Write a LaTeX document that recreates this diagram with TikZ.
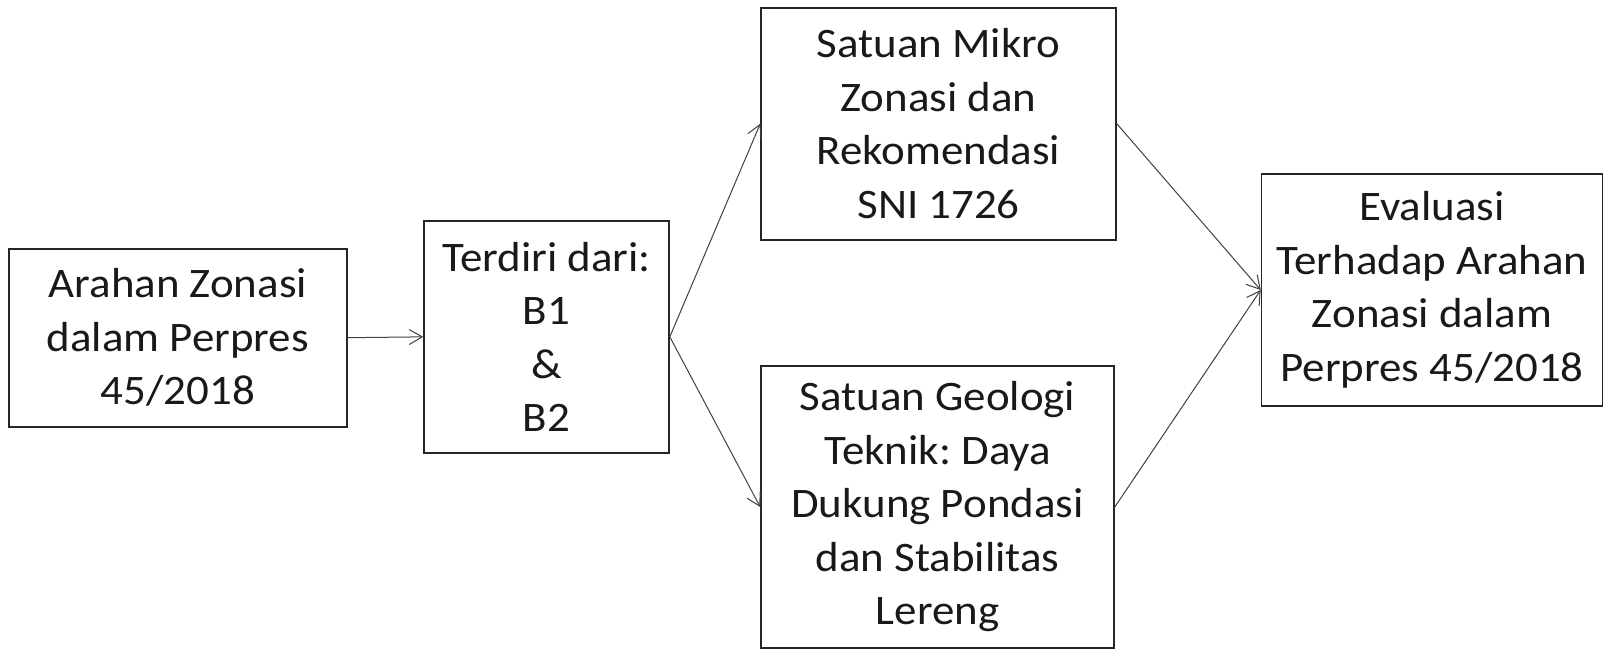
\documentclass[tikz,border=0pt]{standalone}
\usepackage{fontspec}
\setmainfont{Carlito}[FakeStretch=1.07]
\usetikzlibrary{arrows.meta}
\frenchspacing
\begin{document}
\begin{tikzpicture}[x=1pt,y=-1pt,
  box/.style={draw=black!85, line width=1.6pt, inner sep=0pt, align=center,
    font=\fontsize{42}{53.5}\selectfont, text=black!90},
  conn/.style={draw=black!75, line width=1pt, -{Straight Barb[length=13pt,width=15pt,line width=1pt]}}]
\useasboundingbox (0,0) rectangle (1605,650);
\node[box, minimum width=338pt, minimum height=178pt] (a) at (177.85,337.7) {Arahan Zonasi\\dalam Perpres\\45/2018};
\node[box, minimum width=245pt, minimum height=232pt] (b) at (546.5,336.85) {Terdiri dari:\\B1\\\&\\B2};
\node[box, minimum width=355pt, minimum height=232pt] (c) at (938.5,123.75) {Satuan Mikro\\Zonasi dan\\Rekomendasi\\SNI 1726};
\node[box, minimum width=353pt, minimum height=282pt] (d) at (937.5,507) {Satuan Geologi\\Teknik: Daya\\Dukung Pondasi\\dan Stabilitas\\Lereng};
\node[box, minimum width=341pt, minimum height=232pt] (e) at (1432,290) {Evaluasi\\Terhadap Arahan\\Zonasi dalam\\Perpres 45/2018};
\draw[conn] (a.east) -- (b.west);
\draw[conn] (b.east) -- (c.west);
\draw[conn] (b.east) -- (d.west);
\draw[conn] (c.east) -- (e.west);
\draw[conn] (d.east) -- (e.west);
\end{tikzpicture}
\end{document}
